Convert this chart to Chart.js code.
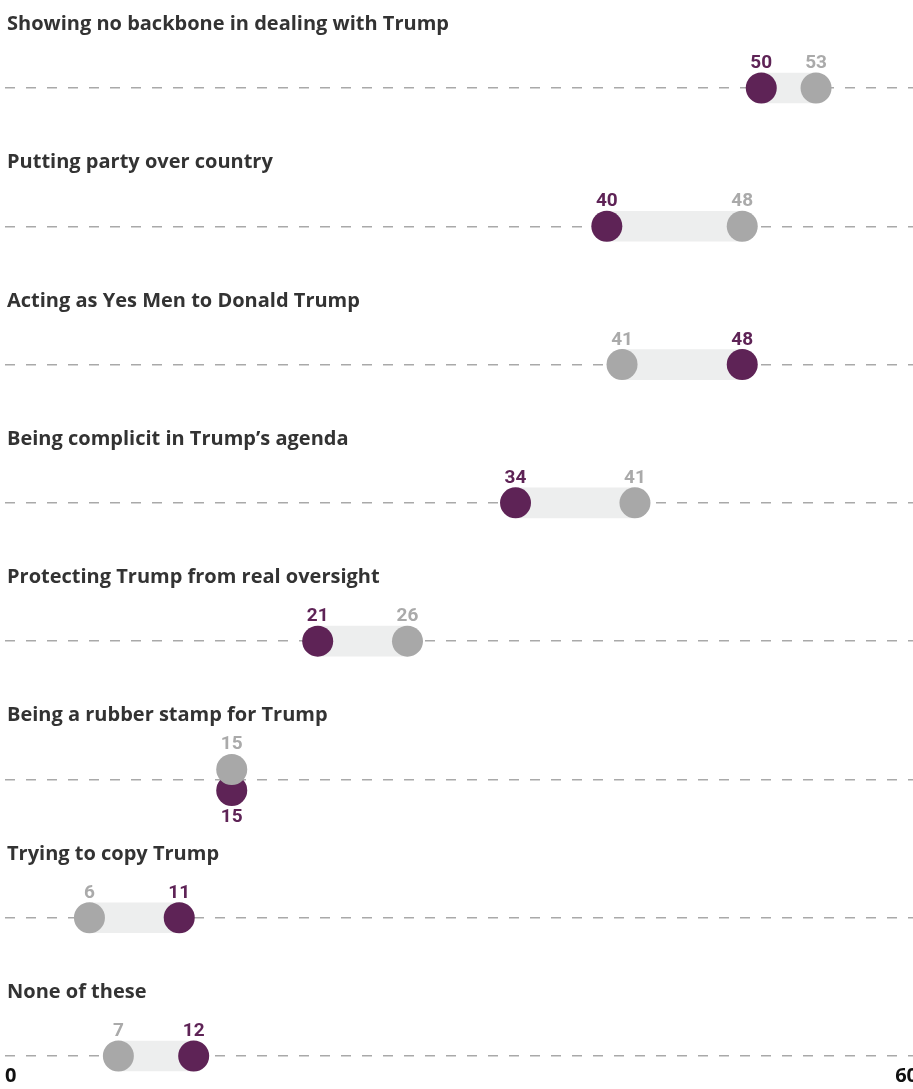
<!DOCTYPE html>
<html>
<head>
  <title>Criticisms of Republicans in Congress</title>
  <script src="https://cdn.jsdelivr.net/npm/chart.js"></script>
  <style>
    html, body { margin: 0; padding: 0; background: #fff; overflow: hidden; }
  </style>
</head>
<body>
  <canvas id="dumbbell" width="930" height="1089"></canvas>

  <script>
    // Row titles, top to bottom
    const categories = [
      'Showing no backbone in dealing with Trump',
      'Putting party over country',
      'Acting as Yes Men to Donald Trump',
      'Being complicit in Trump\u2019s agenda',
      'Protecting Trump from real oversight',
      'Being a rubber stamp for Trump',
      'Trying to copy Trump',
      'None of these'
    ];
    // Values (labels show the rounded number)
    const purpleValues = [49.7, 39.55, 48.45, 33.55, 20.55, 14.9, 11.45, 12.4];
    const grayValues   = [53.3, 48.45, 40.55, 41.4, 26.45, 14.9, 5.55, 7.45];
    const axisTicks = [0, 60];

    const PURPLE = '#5e2356';
    const GRAY = '#a8a8a8';
    const TITLE_FONT = '"Open Sans", Lato, sans-serif';

    const isTie = i => Math.round(purpleValues[i]) === Math.round(grayValues[i]);

    // titles above each row + number labels on the dots
    const rowLabels = {
      id: 'rowLabels',
      afterDatasetsUpdate(chart) {
        // pull tied dots apart so both stay visible
        const pMeta = chart.getDatasetMeta(1);
        const gMeta = chart.getDatasetMeta(2);
        categories.forEach((c, i) => {
          if (isTie(i)) {
            pMeta.data[i].y += 11;
            gMeta.data[i].y -= 10;
          }
        });
      },
      afterDatasetsDraw(chart) {
        const ctx = chart.ctx;
        const yScale = chart.scales.y;
        ctx.save();
        ctx.font = '700 20px ' + TITLE_FONT;
        ctx.fillStyle = '#333333';
        ctx.textAlign = 'left';
        ctx.textBaseline = 'alphabetic';
        categories.forEach((c, i) => {
          ctx.fillText(c, 7, yScale.getPixelForValue(i) - 58);
        });

        ctx.font = '700 19px Roboto';
        ctx.textAlign = 'center';
        [[1, purpleValues, PURPLE], [2, grayValues, '#aaaaaa']].forEach(([d, vals, color]) => {
          const meta = chart.getDatasetMeta(d);
          ctx.fillStyle = color;
          meta.data.forEach((pt, i) => {
            const below = isTie(i) && d === 1;
            ctx.fillText(Math.round(vals[i]), pt.x, below ? pt.y + 32 : pt.y - 20);
          });
        });
        ctx.restore();
      }
    };

    const ctx = document.getElementById('dumbbell').getContext('2d');

    new Chart(ctx, {
      type: 'bar',
      data: {
        labels: categories,
        datasets: [
          {
            type: 'bar',
            indexAxis: 'y',
            data: purpleValues.map((p, i) => [Math.min(p, grayValues[i]), Math.max(p, grayValues[i])]),
            backgroundColor: '#edeeee',
            borderWidth: 0,
            borderSkipped: false,
            barThickness: 30,
            clip: false,
            order: 3
          },
          {
            type: 'scatter',
            data: purpleValues.map((v, i) => ({ x: v, y: categories[i] })),
            backgroundColor: PURPLE,
            borderWidth: 0,
            pointRadius: 15.5,
            clip: false,
            order: 2
          },
          {
            type: 'scatter',
            data: grayValues.map((v, i) => ({ x: v, y: categories[i] })),
            backgroundColor: GRAY,
            borderWidth: 0,
            pointRadius: 15.5,
            clip: false,
            order: 1
          }
        ]
      },
      options: {
        responsive: false,
        animation: false,
        events: [],
        layout: { autoPadding: false, padding: { top: 88, left: 5, right: 12, bottom: 0 } },
        plugins: {
          legend: { display: false },
          tooltip: { enabled: false }
        },
        scales: {
          x: {
            type: 'linear',
            min: 0,
            max: 60,
            offset: false,
            afterBuildTicks: s => { s.ticks = axisTicks.map(v => ({ value: v })); },
            afterFit: s => { s.paddingLeft = 0; s.paddingRight = 0; s.height = 33; },
            grid: { display: false, drawTicks: false, offset: false },
            border: { display: false },
            ticks: {
              align: 'inner',
              maxRotation: 0,
              padding: 8,
              color: '#111111',
              font: { family: TITLE_FONT, weight: '700', size: 20 }
            }
          },
          y: {
            type: 'category',
            offset: false,
            grid: { color: '#a9a9a9', lineWidth: 1.5, drawTicks: false, offset: false },
            border: { display: false, dash: [10, 11] },
            ticks: { display: false },
            afterFit: s => { s.width = 0; }
          }
        }
      },
      plugins: [rowLabels]
    });
  </script>
</body>
</html>
